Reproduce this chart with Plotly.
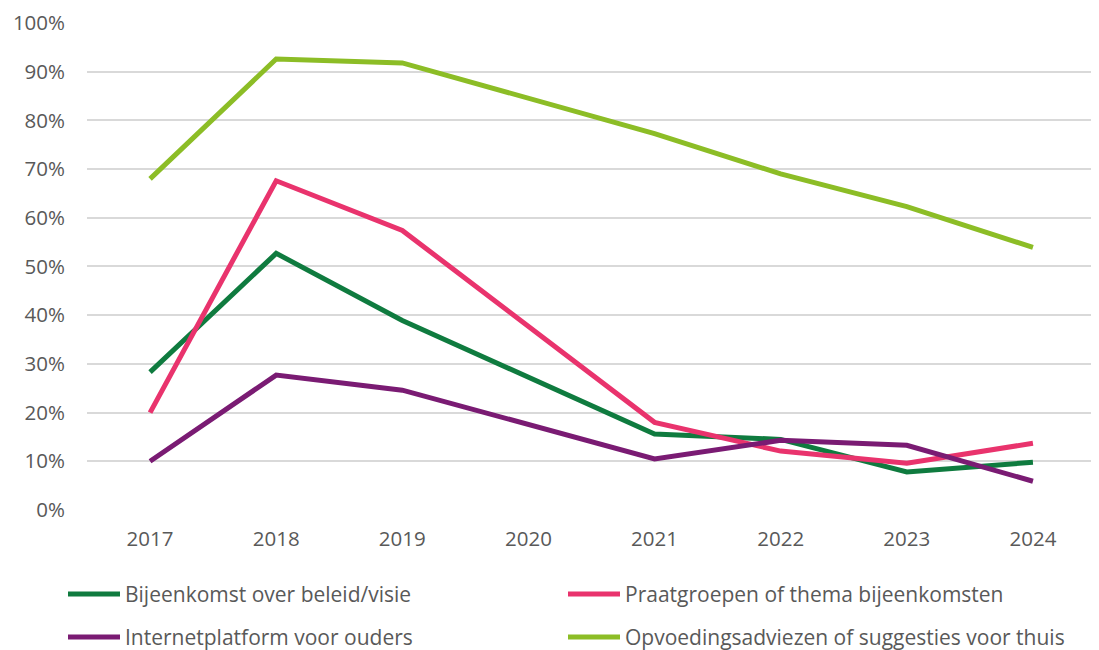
import plotly.graph_objects as go

years = ["2017", "2018", "2019", "2020", "2021", "2022", "2023", "2024"]
bijeenkomst = [0.283, 0.527, 0.389, None, 0.156, 0.145, 0.078, 0.098]
praatgroepen = [0.200, 0.676, 0.574, None, 0.180, 0.121, 0.096, 0.137]
internet = [0.100, 0.277, 0.246, None, 0.105, 0.143, 0.133, 0.059]
opvoeding = [0.680, 0.926, 0.918, None, 0.773, 0.690, 0.623, 0.539]

names = ["Bijeenkomst over beleid/visie", "Praatgroepen of thema bijeenkomsten",
         "Internetplatform voor ouders", "Opvoedingsadviezen of suggesties voor thuis"]
colors = ["#0F7B3F", "#E9336D", "#7A1B73", "#8CBD26"]
series = [bijeenkomst, praatgroepen, internet, opvoeding]

FONT = "Open Sans, Liberation Sans, Arial, sans-serif"
GREY = "#595959"
OFF = 8  # page body margin offset

fig = go.Figure()
for i in range(4):
    fig.add_trace(go.Scatter(x=years, y=series[i], mode="lines", name=names[i],
                             line=dict(color=colors[i], width=5),
                             connectgaps=True, showlegend=False))

# manual legend (2x2 grid); positions given in window pixels
L, T, R, B = 87, 22, 1096, 510
W, H = R - L, B - T
YMAX = 1.002
def px_x(p):
    return (p - L) / W
def px_y(p):
    return -(p - B) / H

legend_pos = [(68, 594), (568, 594), (68, 637), (568, 637)]
for i, (lx, ly) in enumerate(legend_pos):
    fig.add_shape(type="line", xref="paper", yref="paper",
                  x0=px_x(lx), x1=px_x(lx + 52), y0=px_y(ly), y1=px_y(ly),
                  line=dict(color=colors[i], width=5))
    fig.add_annotation(xref="paper", yref="paper", x=px_x(lx + 55), y=px_y(ly),
                       text=names[i], showarrow=False, xanchor="left", yanchor="middle",
                       font=dict(family=FONT, size=21, color=GREY))

fig.update_layout(
    width=1099 - OFF, height=650 - OFF,
    margin=dict(l=L - OFF, r=1099 - R, t=T - OFF, b=650 - B, pad=0, autoexpand=False),
    paper_bgcolor="white", plot_bgcolor="white",
    font=dict(family=FONT, size=20.5, color=GREY),
    showlegend=False,
)
fig.update_xaxes(type="category", range=[-0.5, 7.5], showgrid=False, showline=False,
                 zeroline=False, ticks="", ticklabelstandoff=14, automargin=False,
                 tickfont=dict(family=FONT, size=20.5, color=GREY))
fig.update_yaxes(range=[0, YMAX], tickmode="array",
                 tickvals=[k / 10 for k in range(11)], tickformat=".0%", showgrid=True,
                 gridcolor="#D9D9D9", gridwidth=1.5, zeroline=False, showline=False,
                 ticks="", ticklabelstandoff=21, ticklabeloverflow="allow", automargin=False,
                 tickfont=dict(family=FONT, size=20.5, color=GREY))

fig.write_html("out.html")
